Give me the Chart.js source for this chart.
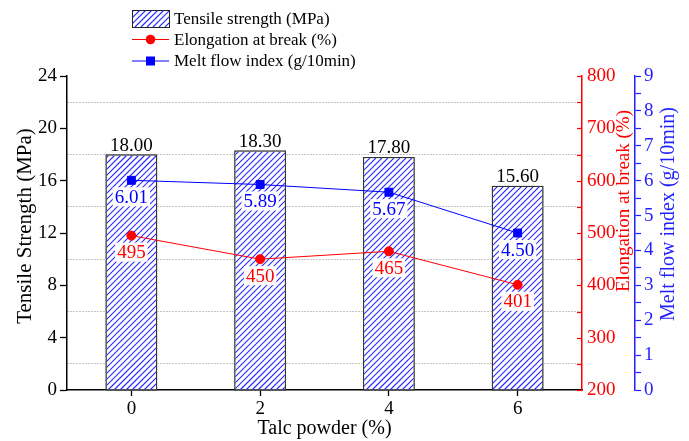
<!DOCTYPE html>
<html>
<head>
<meta charset="utf-8">
<script src="https://cdn.jsdelivr.net/npm/chart.js@4/dist/chart.umd.min.js"></script>
<style>
html,body{margin:0;padding:0;background:#fff;}
#wrap{width:689px;height:441px;position:relative;}
</style>
</head>
<body>
<div id="wrap"><canvas id="c" width="689" height="441"></canvas></div>
<script>
// ---- data ----
const categories = ['0', '2', '4', '6'];
const tensile = [18.00, 18.30, 17.80, 15.60];
const elongation = [495, 450, 465, 401];
const mfi = [6.01, 5.89, 5.67, 4.50];
const seriesNames = ['Tensile strength (MPa)', 'Elongation at break (%)', 'Melt flow index (g/10min)'];
const leftTicks = [0, 4, 8, 12, 16, 20, 24];
const axisTitles = ['Tensile Strength (MPa)', 'Elongation at break (%)', 'Melt flow index (g/10min)', 'Talc powder (%)'];

const FONT = '"Liberation Serif", "Times New Roman", serif';
const RED = '#ff0000';
const BLUE = '#0000ff';
const AXBLUE = '#1f1fff';
const HATCH = '#2a2aff';

const canvas = document.getElementById('c');

function hatchRect(ctx, x, y, w, h) {
  ctx.save();
  ctx.beginPath();
  ctx.rect(x, y, w, h);
  ctx.clip();
  ctx.fillStyle = '#fff';
  ctx.fillRect(x, y, w, h);
  ctx.strokeStyle = HATCH;
  ctx.lineWidth = 1.2;
  ctx.beginPath();
  const step = 6;
  const start = Math.floor((x + y) / step) * step;
  for (let c = start; c <= x + w + y + h + step; c += step) {
    ctx.moveTo(c - (y + h), y + h);
    ctx.lineTo(c - y, y);
  }
  ctx.stroke();
  ctx.restore();
}

const labelPlugin = {
  id: 'valueLabels',
  afterDatasetDraw(chart, args) {
    if (args.index !== 0) return;
    const ctx = chart.ctx;
    chart.getDatasetMeta(0).data.forEach(el => {
      const p = el.getProps(['x', 'y', 'base', 'width'], true);
      const l = p.x - p.width / 2, r = p.x + p.width / 2;
      const top = Math.min(p.y, p.base), bot = Math.max(p.y, p.base);
      hatchRect(ctx, l + 1, top + 1, r - l - 2, bot - top - 1);
      ctx.save();
      ctx.strokeStyle = '#333';
      ctx.lineWidth = 1;
      ctx.strokeRect(l + 0.5, top + 0.5, r - l - 1, bot - top);
      ctx.restore();
    });
  },
  afterDatasetsDraw(chart) {
    const ctx = chart.ctx;
    ctx.save();
    ctx.font = '19px ' + FONT;
    ctx.textAlign = 'center';
    ctx.textBaseline = 'alphabetic';
    ctx.fillStyle = '#000';
    chart.getDatasetMeta(0).data.forEach((el, i) => {
      ctx.fillText(tensile[i].toFixed(2), el.x, el.y - 4);
    });
    const specs = [
      [1, elongation, v => String(v), RED],
      [2, mfi, v => v.toFixed(2), BLUE]
    ];
    specs.forEach(([di, arr, fmt, col]) => {
      chart.getDatasetMeta(di).data.forEach((el, i) => {
        const t = fmt(arr[i]);
        const w = ctx.measureText(t).width;
        const cy = el.y + 16;
        ctx.fillStyle = '#fff';
        ctx.fillRect(el.x - w / 2 - 2, cy - 9, w + 4, 19);
        ctx.fillStyle = col;
        ctx.fillText(t, el.x, cy + 6.5);
      });
    });
    ctx.restore();
  },
  afterDraw(chart) {
    const ctx = chart.ctx;
    ctx.save();
    const sE = chart.scales.yE;
    ctx.strokeStyle = RED;
    ctx.lineWidth = 1.2;
    for (let v = sE.min; v <= sE.max; v += 50) {
      const y = Math.round(sE.getPixelForValue(v)) + 0.5;
      ctx.beginPath();
      ctx.moveTo(sE.left - 5, y);
      ctx.lineTo(sE.left, y);
      ctx.stroke();
    }
    const rot = (text, x, y, size, color) => {
      ctx.save();
      ctx.translate(x, y);
      ctx.rotate(-Math.PI / 2);
      ctx.font = size + 'px ' + FONT;
      ctx.fillStyle = color;
      ctx.textAlign = 'center';
      ctx.textBaseline = 'middle';
      ctx.fillText(text, 0, 0);
      ctx.restore();
    };
    rot(axisTitles[0], 25, 226, 21, '#000');
    rot(axisTitles[1], 624, 201, 19, RED);
    rot(axisTitles[2], 669, 214, 20, AXBLUE);
    // legend
    const x0 = 132, x1 = 169, tx = 174;
    const rows = [18.5, 39.5, 61];
    hatchRect(ctx, x0, 10, x1 - x0, 17);
    ctx.strokeStyle = '#222';
    ctx.lineWidth = 1;
    ctx.strokeRect(x0 + 0.5, 10.5, x1 - x0, 17);
    ctx.strokeStyle = RED;
    ctx.beginPath(); ctx.moveTo(x0, rows[1]); ctx.lineTo(x1, rows[1]); ctx.stroke();
    ctx.fillStyle = RED;
    ctx.beginPath(); ctx.arc((x0 + x1) / 2, rows[1], 4.8, 0, Math.PI * 2); ctx.fill();
    ctx.strokeStyle = BLUE;
    ctx.beginPath(); ctx.moveTo(x0, rows[2]); ctx.lineTo(x1, rows[2]); ctx.stroke();
    ctx.fillStyle = BLUE;
    ctx.fillRect((x0 + x1) / 2 - 4.5, rows[2] - 4.5, 9, 9);
    ctx.font = '17px ' + FONT;
    ctx.fillStyle = '#000';
    ctx.textAlign = 'left';
    ctx.textBaseline = 'middle';
    seriesNames.forEach((n, i) => ctx.fillText(n, tx, rows[i] + 1));
    ctx.restore();
  }
};

new Chart(canvas, {
  type: 'bar',
  data: {
    labels: categories,
    datasets: [
      {
        type: 'bar',
        label: seriesNames[0],
        data: tensile,
        yAxisID: 'y',
        backgroundColor: '#fff',
        borderColor: '#333',
        borderWidth: 1,
        barPercentage: 0.4,
        categoryPercentage: 1,
        order: 3
      },
      {
        type: 'line',
        label: seriesNames[1],
        data: elongation,
        yAxisID: 'yE',
        borderColor: RED,
        backgroundColor: RED,
        borderWidth: 1,
        pointStyle: 'circle',
        pointRadius: 4.5,
        pointBorderWidth: 1,
        tension: 0,
        order: 1
      },
      {
        type: 'line',
        label: seriesNames[2],
        data: mfi,
        yAxisID: 'yM',
        borderColor: BLUE,
        backgroundColor: BLUE,
        borderWidth: 1,
        pointStyle: 'rect',
        pointRadius: 5.6,
        pointBorderWidth: 1,
        tension: 0,
        order: 0
      }
    ]
  },
  options: {
    responsive: false,
    animation: false,
    events: [],
    layout: { padding: { left: 13, right: 9, top: 76, bottom: 0 } },
    plugins: { legend: { display: false }, tooltip: { enabled: false } },
    scales: {
      x: {
        type: 'category',
        position: 'bottom',
        offset: true,
        grid: { offset: false, drawOnChartArea: false, drawTicks: true, tickLength: 6, color: '#000', tickWidth: 1.3 },
        border: { color: '#000', width: 1.5 },
        ticks: { color: '#000', font: { family: FONT, size: 19 }, padding: 2 },
        title: { display: true, text: axisTitles[3], color: '#000', font: { family: FONT, size: 20 }, padding: 0 },
        afterFit(s) { s.height = 51; }
      },
      y: {
        position: 'left',
        min: 0, max: 24,
        ticks: {
          stepSize: 2, autoSkip: false, color: '#000', padding: 3,
          font: { family: FONT, size: 19 },
          callback: v => (leftTicks.includes(v) ? String(v) : '')
        },
        grid: {
          drawOnChartArea: true,
          drawTicks: true,
          tickLength: 7,
          lineWidth: 1,
          tickWidth: 1.3,
          color: c => (c.tick && c.tick.value % 4 === 2 ? '#8c8c8c' : 'rgba(0,0,0,0)'),
          tickColor: c => (c.tick && leftTicks.includes(c.tick.value) ? '#000' : 'rgba(0,0,0,0)')
        },
        border: { color: '#000', width: 1.5, dash: [1, 2] },
        title: { display: false },
        afterFit(s) { s.width = 54; }
      },
      yE: {
        position: 'right',
        weight: 0,
        min: 200, max: 800,
        ticks: { stepSize: 100, color: RED, padding: 5, font: { family: FONT, size: 19 } },
        grid: { drawOnChartArea: false, drawTicks: false },
        border: { color: RED, width: 1.5 },
        title: { display: false },
        afterFit(s) { s.width = 53; }
      },
      yM: {
        position: 'right',
        weight: 1,
        min: 0, max: 9,
        ticks: {
          stepSize: 0.5, autoSkip: false, color: AXBLUE, padding: 3,
          font: { family: FONT, size: 19 },
          callback: v => (Number.isInteger(v) ? String(v) : '')
        },
        grid: { drawOnChartArea: false, drawTicks: true, tickLength: 6, color: AXBLUE, tickWidth: 1.2 },
        border: { color: AXBLUE, width: 1.5 },
        title: { display: false },
        afterFit(s) { s.width = 45; }
      }
    }
  },
  plugins: [labelPlugin]
});
</script>
</body>
</html>
